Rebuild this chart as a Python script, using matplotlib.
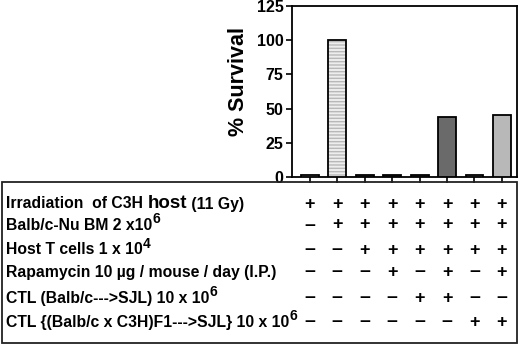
import numpy as np
import matplotlib
matplotlib.use("Agg")
import matplotlib.pyplot as plt
from matplotlib.patches import Rectangle
from matplotlib.transforms import blended_transform_factory

plt.rcParams['font.family'] = ['Liberation Sans', 'DejaVu Sans']
plt.rcParams['font.weight'] = 'bold'

# datos
survival = [1.5, 100, 1.5, 1.5, 1.5, 44, 1.5, 45]
bar_colors = ['#c8c8c8', '#ededed', '#555555', '#3a3a3a', '#444444', '#6a6a6a', '#aaaaaa', '#b8b8b8']
bar_hatch = [None, '-----', None, None, None, None, None, None]
y_ticks = [0, 25, 50, 75, 100, 125]

# filas de la tabla: (texto, texto grande, resto, superindice)
row_labels = [
    ("Irradiation  of C3H ", "host", " (11 Gy)", None),
    ("Balb/c-Nu BM 2 x10", None, None, "6"),
    ("Host T cells 1 x 10", None, None, "4"),
    ("Rapamycin 10 \u00b5g / mouse / day (I.P.)", None, None, None),
    ("CTL (Balb/c--->SJL) 10 x 10", None, None, "6"),
    ("CTL {(Balb/c x C3H)F1--->SJL} 10 x 10", None, None, "6"),
]
signs = [
    "++++++++",
    "-+++++++",
    "--++++++",
    "---+-+-+",
    "----++--",
    "------++",
]
row_y = [204, 225, 250, 272, 298, 322]  # px desde arriba

W, H = 520, 345
fig = plt.figure(figsize=(W / 100, H / 100), dpi=100)
ax = fig.add_axes([292 / W, 1 - 177 / H, 225 / W, 171 / H])

x = np.arange(len(survival))
for i in range(len(survival)):
    if bar_hatch[i]:
        # relleno rayado claro y luego el borde negro
        ax.bar(x[i], survival[i], width=0.65, color=bar_colors[i], edgecolor='#b8b8b8',
               linewidth=0, hatch=bar_hatch[i], zorder=3)
        ax.bar(x[i], survival[i], width=0.65, fill=False, edgecolor='black',
               linewidth=1.3, zorder=4)
    else:
        ax.bar(x[i], survival[i], width=0.65, color=bar_colors[i], edgecolor='black',
               linewidth=1.3, zorder=3)

ax.set_xlim(-0.65, 7.55)
ax.set_ylim(0, 125)
ax.set_yticks(y_ticks)
ax.set_yticklabels([str(v) for v in y_ticks], fontsize=11.5, fontweight='bold')
ax.set_xticks(x)
ax.set_xticklabels([])
ax.tick_params(axis='both', direction='out', length=4, width=1.2, pad=2)
for s in ax.spines.values():
    s.set_linewidth(1.3)
ax.set_ylabel("% Survival", fontsize=15.5, fontweight='bold')
ax.yaxis.set_label_coords(-0.19, 0.56)

# caja de la tabla
box = Rectangle((2 / W, 1 - 343 / H), 515 / W, 161 / H, transform=fig.transFigure,
                fill=False, edgecolor='#222222', linewidth=1.3)
fig.add_artist(box)

trans = blended_transform_factory(ax.transData, fig.transFigure)
for r, (lab, big, rest, sup) in enumerate(row_labels):
    yf = 1 - row_y[r] / H
    t = fig.text(6 / W, yf, lab, fontsize=11.3, fontweight='bold', va='center', ha='left')
    if big:
        t2 = ax.annotate(big, xy=(1, 0), xycoords=t, va='bottom', ha='left',
                         fontsize=13.5, fontweight='bold', annotation_clip=False)
        ax.annotate(rest, xy=(1, 0), xycoords=t2, va='bottom', ha='left',
                    fontsize=11.3, fontweight='bold', annotation_clip=False)
    if sup:
        ax.annotate(sup, xy=(1, 0.42), xycoords=t, va='bottom', ha='left',
                    fontsize=10, fontweight='bold', annotation_clip=False)
    for c, s in enumerate(signs[r]):
        if s == '+':
            ax.text(x[c], yf, '+', transform=trans, fontsize=13, fontweight='bold',
                    ha='center', va='center', clip_on=False)
        else:
            ax.text(x[c], yf, '\u2013', transform=trans, fontsize=14,
                    ha='center', va='center', clip_on=False)

plt.savefig("out.png", dpi=100)
plt.close()
